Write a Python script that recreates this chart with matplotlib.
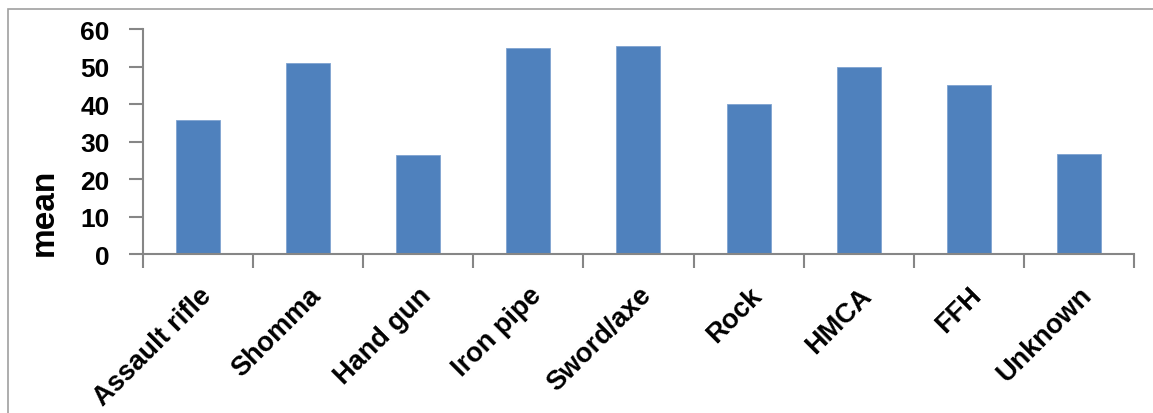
import matplotlib
matplotlib.use("Agg")
import matplotlib.pyplot as plt
from matplotlib.patches import Rectangle

# Mean value per weapon type
weapons = ["Assault rifle", "Shomma", "Hand gun", "Iron pipe", "Sword/axe",
           "Rock", "HMCA", "FFH", "Unknown"]
means = [35.7, 51.0, 26.4, 55.0, 55.6, 40.0, 50.0, 45.0, 26.6]
yticks = [0, 10, 20, 30, 40, 50, 60]

plt.rcParams["font.family"] = ["Liberation Sans", "DejaVu Sans"]
plt.rcParams["font.weight"] = "bold"

fig = plt.figure(figsize=(11.53, 4.14), dpi=100)
ax = fig.add_axes([0.124, 0.384, 0.8595, 0.5435])

# light gray frame round the chart area
fig.patches.append(Rectangle((0.007, -0.05), 1.2, 1.026, transform=fig.transFigure,
                             fill=False, edgecolor="#a0a0a0", linewidth=1.2))

x = range(len(weapons))
ax.bar(x, means, width=0.4, color="#4f81bd", edgecolor="#7fa3d0", linewidth=0.6)

ax.set_xlim(-0.5, len(weapons) - 0.5)
ax.set_ylim(0, 60)
ax.set_yticks(yticks)
ax.set_yticklabels([str(v) for v in yticks], fontsize=19, fontweight="bold")

# category ticks sit between bars, labels sit under the bar centres
ax.set_xticks([i - 0.5 for i in range(len(weapons) + 1)])
ax.set_xticklabels([])
ax.set_xticks(list(x), minor=True)
ax.set_xticklabels(weapons, minor=True, rotation=45, ha="right",
                   rotation_mode="anchor", fontsize=19.5, fontweight="bold")
ax.tick_params(axis="x", which="minor", length=0, pad=20)
ax.tick_params(axis="x", which="major", length=10, width=1.5, color="#868686",
               direction="out")
ax.tick_params(axis="y", length=10, width=1.5, color="#868686", pad=14)

for side in ("top", "right"):
    ax.spines[side].set_visible(False)
for side in ("left", "bottom"):
    ax.spines[side].set_color("#868686")
    ax.spines[side].set_linewidth(1.5)

ax.set_ylabel("mean", fontsize=24, fontweight="bold", va="center", ha="center")
ax.yaxis.set_label_coords(44 / 1153, (414 - 212) / 414, transform=fig.transFigure)

fig.savefig("out.png", dpi=100)
